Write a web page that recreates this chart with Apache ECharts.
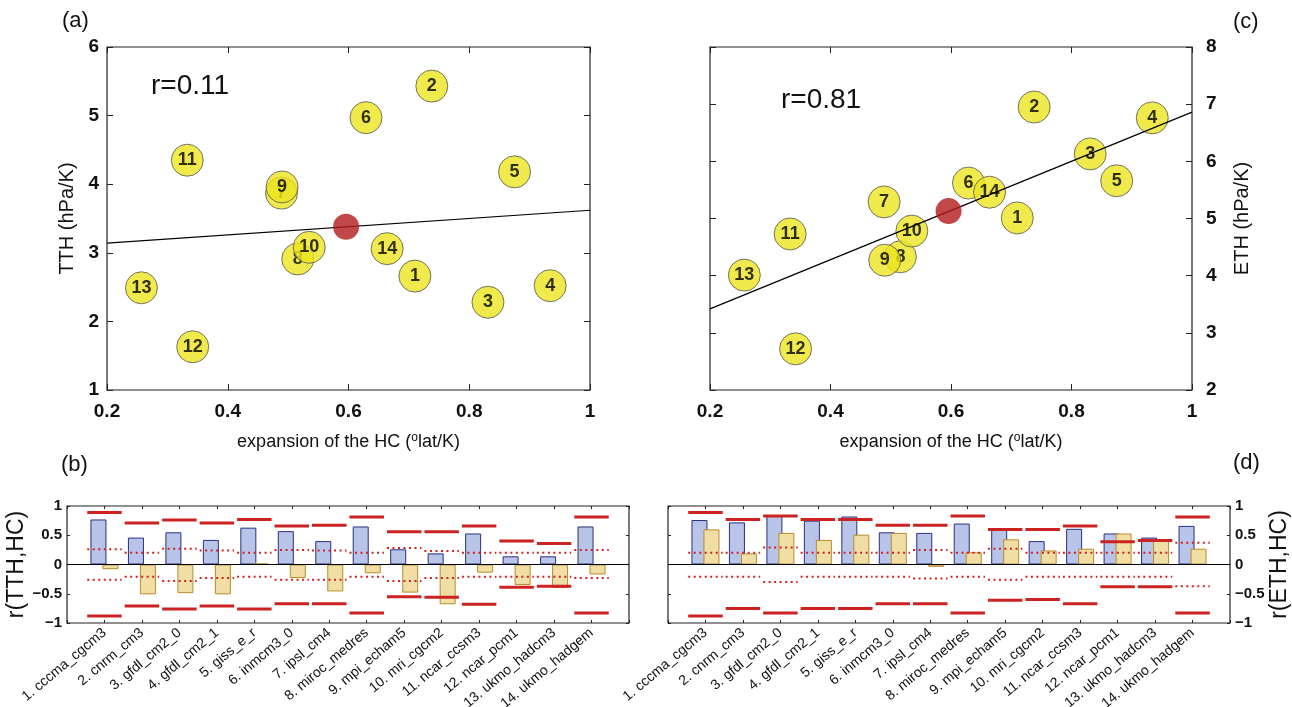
<!DOCTYPE html>
<html><head><meta charset="utf-8">
<script src="https://cdn.jsdelivr.net/npm/echarts@6/dist/echarts.min.js"></script>
<style>html,body{margin:0;padding:0;background:#fff}#c{width:1292px;height:707px}</style>
</head><body><div id="c"></div>
<script>
// ---------- data ----------
const models = ['1. cccma_cgcm3','2. cnrm_cm3','3. gfdl_cm2_0','4. gfdl_cm2_1','5. giss_e_r','6. inmcm3_0','7. ipsl_cm4','8. miroc_medres','9. mpi_echam5','10. mri_cgcm2','11. ncar_ccsm3','12. ncar_pcm1','13. ukmo_hadcm3','14. ukmo_hadgem'];
const hcExpansion = [0.71,0.738,0.831,0.934,0.875,0.629,0.489,0.516,0.49,0.535,0.333,0.342,0.257,0.664];
const tth = [2.66,5.43,2.28,2.52,4.18,4.97,3.87,2.91,3.96,3.08,4.35,1.63,2.49,3.06];
const eth = [5.01,6.95,6.13,6.76,5.66,5.62,5.29,4.33,4.27,4.78,4.73,2.72,4.01,5.46];
const meanA = [0.596,3.38];
const meanC = [0.596,5.13];
const fitA = [[0.2,3.14],[1.0,3.62]];
const fitC = [[0.2,3.42],[1.0,6.86]];
const rTextA = 'r=0.11';
const rTextC = 'r=0.81';

// panel (b) r(TTH,HC)
const bBlue  = [0.77,0.46,0.55,0.42,0.63,0.57,0.40,0.65,0.26,0.19,0.53,0.14,0.14,0.65];
const bTan   = [-0.08,-0.51,-0.49,-0.51,0.02,-0.23,-0.46,-0.15,-0.48,-0.68,-0.14,-0.35,-0.40,-0.17];
const bSigHi = [0.89,0.71,0.76,0.71,0.77,0.66,0.67,0.81,0.56,0.56,0.66,0.40,0.36,0.81];
const bSigLo = [-0.88,-0.71,-0.76,-0.71,-0.76,-0.67,-0.67,-0.83,-0.55,-0.56,-0.68,-0.39,-0.37,-0.83];
const bDotHi = [0.26,0.20,0.27,0.24,0.20,0.25,0.24,0.20,0.28,0.23,0.20,0.20,0.20,0.25];
const bDotLo = [-0.26,-0.21,-0.28,-0.23,-0.21,-0.26,-0.26,-0.21,-0.28,-0.23,-0.21,-0.21,-0.21,-0.23];

// panel (d) r(ETH,HC)
const dBlue  = [0.76,0.72,0.83,0.75,0.82,0.55,0.54,0.70,0.60,0.40,0.61,0.53,0.46,0.66];
const dTan   = [0.60,0.19,0.54,0.42,0.51,0.54,-0.04,0.21,0.43,0.24,0.27,0.53,0.41,0.27];
const dSigHi = [0.89,0.77,0.83,0.77,0.77,0.67,0.67,0.83,0.60,0.60,0.66,0.39,0.41,0.81];
const dSigLo = [-0.88,-0.75,-0.83,-0.75,-0.75,-0.67,-0.67,-0.83,-0.61,-0.60,-0.67,-0.38,-0.38,-0.83];
const dDotHi = [0.20,0.20,0.29,0.20,0.20,0.20,0.25,0.20,0.27,0.20,0.20,0.20,0.20,0.37];
const dDotLo = [-0.21,-0.21,-0.30,-0.21,-0.21,-0.21,-0.24,-0.21,-0.26,-0.21,-0.21,-0.21,-0.21,-0.37];

// ---------- chart ----------
const FONT = '"Liberation Sans", Arial, Helvetica, sans-serif';
const chart = echarts.init(document.getElementById('c'));

const gridBase = {show:true, borderColor:'#222', borderWidth:1.2, backgroundColor:'#fff', containLabel:false, outerBoundsMode:'none'};
const grids = [
  {left:107, top:47, width:483, height:343},
  {left:710, top:47, width:482, height:343},
  {left:67, top:506, width:562, height:117},
  {left:668, top:506, width:562, height:117}
].map(g => Object.assign({}, gridBase, g));

const tickIn = (len) => ({show:true, inside:true, length:len, lineStyle:{color:'#222', width:1}});
const noLine = {show:false, onZero:false};
const minus = s => String(s).replace('-', '\u2212');
const fmtX = v => String(+(+v).toFixed(1));

const xName = '{t|expansion of the HC (}{s|o}{t|lat/K)}';
const xNameStyle = {rich:{t:{fontFamily:FONT, fontSize:18, color:'#111'}, s:{fontFamily:FONT, fontSize:12, color:'#111', verticalAlign:'bottom', padding:[0,0,9,0]}}};

function scatterX(gi, pos, labels) {
  return {type:'value', gridIndex:gi, position:pos, min:0.2, max:1, interval:0.2,
    axisLine:noLine, axisTick:tickIn(6), splitLine:{show:false},
    axisLabel:{show:labels, fontFamily:FONT, fontSize:19, fontWeight:'bold', color:'#111', margin:12, formatter:fmtX},
    name: labels ? xName : '', nameLocation:'middle', nameGap:42, nameTextStyle:xNameStyle};
}
function scatterY(gi, pos, min, max, labels, name) {
  return {type:'value', gridIndex:gi, position:pos, min:min, max:max, interval:1,
    axisLine:noLine, axisTick:tickIn(6), splitLine:{show:false},
    axisLabel:{show:labels, fontFamily:FONT, fontSize:19, fontWeight:'bold', color:'#111', margin:pos==='left'?8:14},
    name: name||'', nameLocation:'middle', nameRotate:90, nameGap: pos==='left'?30:40,
    nameTextStyle:{fontFamily:FONT, fontSize:20, color:'#111'}};
}
function barX(gi, pos, labels) {
  return {type:'value', gridIndex:gi, position:pos, min:0, max:15, interval:1,
    axisLine:noLine, axisTick:tickIn(3), splitLine:{show:false},
    axisLabel:{show:labels, fontFamily:FONT, fontSize:14, color:'#111', rotate:40, margin:8,
      formatter: v => (v>=1 && v<=14) ? models[v-1] : ''}};
}
function barY(gi, pos, labels, name) {
  return {type:'value', gridIndex:gi, position:pos, min:-1, max:1, interval:0.5,
    axisLine:noLine, axisTick:tickIn(3), splitLine:{show:false},
    axisLabel:{show:labels, fontFamily:FONT, fontSize:15, fontWeight:'bold', color:'#111', margin:5, formatter:minus},
    name: name||'', nameLocation:'middle', nameRotate:90, nameGap: pos==='left'?18:35,
    nameTextStyle:{fontFamily:FONT, fontSize:23, color:'#111'}};
}

const xAxes = [
  scatterX(0,'bottom',true), scatterX(0,'top',false),
  scatterX(1,'bottom',true), scatterX(1,'top',false),
  barX(2,'bottom',true), barX(2,'top',false),
  barX(3,'bottom',true), barX(3,'top',false)
];
const yAxes = [
  scatterY(0,'left',1,6,true,'TTH (hPa/K)'), scatterY(0,'right',1,6,false),
  scatterY(1,'left',2,8,false), scatterY(1,'right',2,8,true,'ETH (hPa/K)'),
  barY(2,'left',true,'r(TTH,HC)'), barY(2,'right',false),
  barY(3,'left',false), barY(3,'right',true,'r(ETH,HC)')
];

const series = [];
function addScatterPanel(xi, yi, ys, fit, mean) {
  hcExpansion.forEach((x, i) => {
    series.push({type:'scatter', xAxisIndex:xi, yAxisIndex:yi, z:3+i, silent:true,
      data:[[x, ys[i]]], symbolSize:32,
      itemStyle:{color:'#ece51f', borderColor:'#555', borderWidth:1},
      label:{show:true, position:'inside', formatter:String(i+1), fontFamily:FONT, fontSize:18, fontWeight:'bold', color:'#000'}});
  });
  series.push({type:'line', xAxisIndex:xi, yAxisIndex:yi, z:30, data:fit, symbol:'none', silent:true,
    lineStyle:{color:'#000', width:1.2}});
  series.push({type:'scatter', xAxisIndex:xi, yAxisIndex:yi, z:31, data:[mean], symbolSize:26, silent:true,
    itemStyle:{color:'#b3191b', borderColor:'#b3191b', borderWidth:0}});
}
addScatterPanel(0, 0, tth, fitA, meanA);
addScatterPanel(2, 3, eth, fitC, meanC);

const idx = a => a.map((v,i)=>[i+1, v]);
function addBarPanel(xi, yi, blue, tan, sigHi, sigLo, dotHi, dotLo) {
  series.push({type:'bar', xAxisIndex:xi, yAxisIndex:yi, data:idx(blue), barWidth:16, barGap:'-25%', z:2, silent:true,
    itemStyle:{color:'#b9c4e9', borderColor:'#2a2f80', borderWidth:1},
    markLine:{silent:true, symbol:'none', label:{show:false}, lineStyle:{color:'#000', width:1, type:'solid'}, data:[{yAxis:0}]}});
  series.push({type:'bar', xAxisIndex:xi, yAxisIndex:yi, data:idx(tan), barWidth:16, barGap:'-25%', z:2, silent:true,
    itemStyle:{color:'#f1dea5', borderColor:'#b68d2d', borderWidth:1}});
  const seg = (vals, dashed) => ({type:'custom', xAxisIndex:xi, yAxisIndex:yi, z:5, silent:true, data:idx(vals),
    renderItem:(params, api) => {
      const s = api.coord([api.value(0)-0.46, api.value(1)]);
      const e = api.coord([api.value(0)+0.46, api.value(1)]);
      return {type:'line', shape:{x1:s[0], y1:s[1], x2:e[0], y2:e[1]},
        style: dashed ? {stroke:'#cc2222', lineWidth:2, lineDash:[2,3.5]} : {stroke:'#cc2222', lineWidth:3}};
    }});
  series.push(seg(sigHi,false), seg(sigLo,false), seg(dotHi,true), seg(dotLo,true));
}
addBarPanel(4, 4, bBlue, bTan, bSigHi, bSigLo, bDotHi, bDotLo);
addBarPanel(6, 7, dBlue, dTan, dSigHi, dSigLo, dDotHi, dDotLo);

const txt = (x, y, t, size) => ({type:'text', left:x, top:y, style:{text:t, fontFamily:FONT, fontSize:size, fill:'#111'}});
chart.setOption({
  animation:false,
  backgroundColor:'#fff',
  grid:grids, xAxis:xAxes, yAxis:yAxes, series:series,
  graphic:[
    txt(62, 10, '(a)', 22), txt(1233, 11, '(c)', 22),
    txt(61, 454, '(b)', 22), txt(1233, 452, '(d)', 22),
    txt(151, 72, rTextA, 28), txt(781, 86, rTextC, 28)
  ]
});
</script>
</body></html>
